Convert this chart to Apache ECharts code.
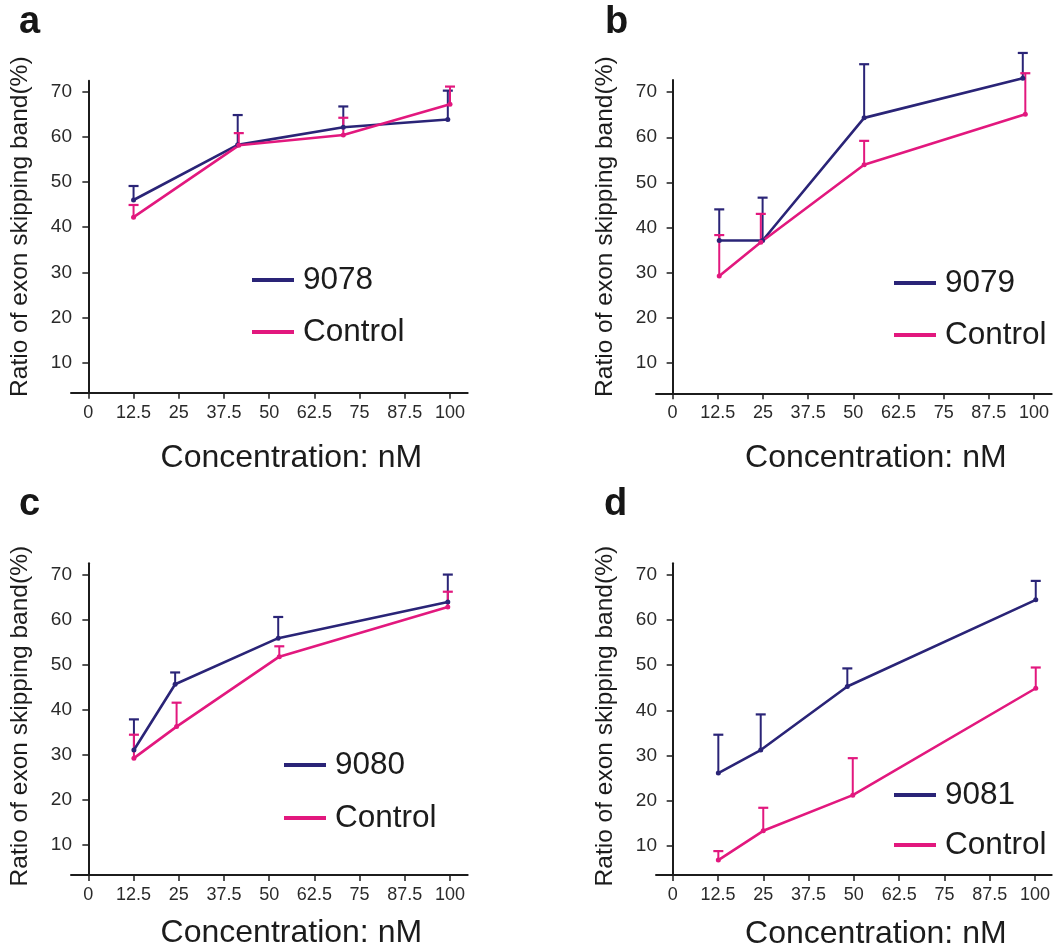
<!DOCTYPE html>
<html><head><meta charset="utf-8">
<script src="https://cdn.jsdelivr.net/npm/echarts@6.0.0/dist/echarts.min.js"></script>
<style>html,body{margin:0;padding:0;background:#fff}#chart{width:1057px;height:951px}</style>
</head><body><div id="chart"></div>
<script>
// ---------- data ----------
const xTicks = [0, 12.5, 25, 37.5, 50, 62.5, 75, 87.5, 100];
const yTicks = [10, 20, 30, 40, 50, 60, 70];
const panelLetters = ['a', 'b', 'c', 'd'];
const drugNames = ['9078', '9079', '9080', '9081'];
const controlName = 'Control';
const yAxisTitle = 'Ratio of exon skipping band(%)';
const xAxisTitle = 'Concentration: nM';

// panel a
const drugA_x = [12.5, 41.3, 70.5, 99.4];
const drugA_y = [46.0, 58.2, 62.1, 63.8];
const drugA_top = [49.1, 64.8, 66.7, 70.2];
const ctrlA_x = [12.5, 41.6, 70.5, 100];
const ctrlA_y = [42.2, 58.1, 60.4, 67.2];
const ctrlA_top = [44.9, 60.8, 64.2, 71.1];
// panel b
const drugB_x = [12.9, 24.9, 53.0, 96.9];
const drugB_y = [37.1, 37.1, 64.3, 73.1];
const drugB_top = [44.0, 46.6, 76.2, 78.7];
const ctrlB_x = [12.9, 24.4, 53.0, 97.6];
const ctrlB_y = [29.2, 36.7, 53.9, 65.1];
const ctrlB_top = [38.3, 43.0, 59.2, 74.2];
// panel c
const drugC_x = [12.6, 24.0, 52.5, 99.4];
const drugC_y = [31.1, 45.7, 55.9, 63.9];
const drugC_top = [37.9, 48.3, 60.6, 70.0];
const ctrlC_x = [12.6, 24.4, 52.8, 99.4];
const ctrlC_y = [29.3, 36.3, 51.8, 62.8];
const ctrlC_top = [34.5, 41.6, 54.1, 66.2];
// panel d
const drugD_x = [12.6, 24.3, 48.2, 100.2];
const drugD_y = [26.1, 31.2, 45.3, 64.5];
const drugD_top = [34.6, 39.1, 49.3, 68.7];
const ctrlD_x = [12.6, 25.0, 49.7, 100.2];
const ctrlD_y = [6.8, 13.3, 21.2, 44.9];
const ctrlD_top = [8.8, 18.4, 29.4, 49.5];

const drugSets = [
  [drugA_x, drugA_y, drugA_top], [drugB_x, drugB_y, drugB_top],
  [drugC_x, drugC_y, drugC_top], [drugD_x, drugD_y, drugD_top]
];
const ctrlSets = [
  [ctrlA_x, ctrlA_y, ctrlA_top], [ctrlB_x, ctrlB_y, ctrlB_top],
  [ctrlC_x, ctrlC_y, ctrlC_top], [ctrlD_x, ctrlD_y, ctrlD_top]
];

// ---------- layout / style ----------
const FONT = '"Liberation Sans", Arial, Helvetica, sans-serif';
const NAVY = '#2a2477';
const MAGENTA = '#e2187e';
const INK = '#1c1c1c';

const layouts = [
  {left: 71, top: 80.7, width: 396.7, height: 312, xMin: -4.8, xMax: 104.9, yMin: 3.36, yMax: 72.4,
   legLeft: 247, legTop: 259, legGap: 20, xNameGap: 49, yShift: 20, letX: 19, letY: 4},
  {left: 656, top: 80, width: 395.7, height: 313.3, xMin: -4.6, xMax: 104.9, yMin: 3.2, yMax: 72.7,
   legLeft: 889, legTop: 262, legGap: 20, xNameGap: 49, yShift: 20, letX: 605, letY: 4},
  {left: 71, top: 563.3, width: 396.7, height: 311.7, xMin: -4.8, xMax: 104.9, yMin: 3.4, yMax: 72.5,
   legLeft: 279, legTop: 744, legGap: 21, xNameGap: 42, yShift: 6, letX: 19, letY: 486},
  {left: 656, top: 563.3, width: 395.7, height: 311.7, xMin: -4.6, xMax: 104.6, yMin: 3.5, yMax: 72.6,
   legLeft: 889, legTop: 774, legGap: 18, xNameGap: 43, yShift: 6, letX: 604, letY: 486}
];

function toPairs(set) { return set[0].map((x, i) => [x, set[1][i]]); }
function toErr(set) { return set[0].map((x, i) => [x, set[1][i], set[2][i]]); }

function errRenderer(color) {
  return function (params, api) {
    const x = api.value(0), y = api.value(1), t = api.value(2);
    const p0 = api.coord([x, y]);
    const p1 = api.coord([x, t]);
    const hw = 5;
    return {
      type: 'group',
      children: [
        {type: 'line', shape: {x1: p0[0], y1: p0[1], x2: p1[0], y2: p1[1]},
         style: {stroke: color, lineWidth: 2}},
        {type: 'line', shape: {x1: p1[0] - hw, y1: p1[1], x2: p1[0] + hw, y2: p1[1]},
         style: {stroke: color, lineWidth: 2.2}}
      ]
    };
  };
}

const grids = [], xAxes = [], yAxes = [], series = [], legends = [], graphics = [];

layouts.forEach((L, i) => {
  grids.push({left: L.left, top: L.top, width: L.width, height: L.height,
              containLabel: false, outerBoundsMode: 'none'});
  xAxes.push({
    type: 'value', gridIndex: i, min: L.xMin, max: L.xMax,
    axisLine: {show: true, onZero: false, lineStyle: {color: INK, width: 2}},
    axisTick: {show: true, length: 6, customValues: xTicks, lineStyle: {color: INK, width: 1.5}},
    axisLabel: {show: true, customValues: xTicks, margin: 11, fontSize: 18, color: '#2a2a2a', fontFamily: FONT},
    splitLine: {show: false},
    name: xAxisTitle, nameLocation: 'middle', nameGap: L.xNameGap, nameMoveOverlap: false,
    nameTextStyle: {fontSize: 32, color: INK, fontFamily: FONT, padding: [0, 0, 0, 44]}
  });
  yAxes.push({
    type: 'value', gridIndex: i, min: L.yMin, max: L.yMax,
    axisLine: {show: true, onZero: true, lineStyle: {color: INK, width: 2}},
    axisTick: {show: true, length: 6, customValues: yTicks, lineStyle: {color: INK, width: 1.5}},
    axisLabel: {show: true, customValues: yTicks, margin: -1, fontSize: 19, color: '#2a2a2a', fontFamily: FONT},
    splitLine: {show: false},
    name: yAxisTitle, nameLocation: 'middle', nameGap: 38, nameMoveOverlap: false,
    nameTextStyle: {fontSize: 24.5, color: INK, fontFamily: FONT, padding: [0, 0, 0, L.yShift]}
  });

  const drug = drugSets[i], ctrl = ctrlSets[i];
  series.push({
    type: 'custom', name: drugNames[i] + ' err', xAxisIndex: i, yAxisIndex: i,
    renderItem: errRenderer(NAVY), encode: {x: 0, y: [1, 2]}, data: toErr(drug), z: 3
  });
  series.push({
    type: 'custom', name: controlName + ' err', xAxisIndex: i, yAxisIndex: i,
    renderItem: errRenderer(MAGENTA), encode: {x: 0, y: [1, 2]}, data: toErr(ctrl), z: 3
  });
  series.push({
    type: 'line', name: drugNames[i], xAxisIndex: i, yAxisIndex: i, data: toPairs(drug),
    symbol: 'circle', symbolSize: 5, showSymbol: true, clip: false,
    lineStyle: {color: NAVY, width: 2.6}, itemStyle: {color: NAVY, borderWidth: 0}, z: 4
  });
  series.push({
    type: 'line', name: controlName, xAxisIndex: i, yAxisIndex: i, data: toPairs(ctrl),
    symbol: 'circle', symbolSize: 5, showSymbol: true, clip: false,
    lineStyle: {color: MAGENTA, width: 2.6}, itemStyle: {color: MAGENTA, borderWidth: 0}, z: 4
  });

  legends.push({
    orient: 'vertical', left: L.legLeft, top: L.legTop, itemGap: L.legGap,
    data: [drugNames[i], controlName], icon: 'rect', itemWidth: 42, itemHeight: 4,
    itemStyle: {borderWidth: 0},
    textStyle: {fontSize: 31.5, lineHeight: 30, color: INK, fontFamily: FONT, padding: [0, 0, 0, 4]},
    selectedMode: false
  });

  graphics.push({
    type: 'text', x: L.letX, y: L.letY,
    style: {text: panelLetters[i], font: 'bold 38px ' + FONT, fill: '#161616'}
  });
});

const chart = echarts.init(document.getElementById('chart'), null, {renderer: 'canvas'});
chart.setOption({
  backgroundColor: '#ffffff',
  animation: false,
  textStyle: {fontFamily: FONT},
  grid: grids, xAxis: xAxes, yAxis: yAxes, series: series, legend: legends,
  graphic: graphics,
  tooltip: {show: false}
});
</script>
</body></html>
